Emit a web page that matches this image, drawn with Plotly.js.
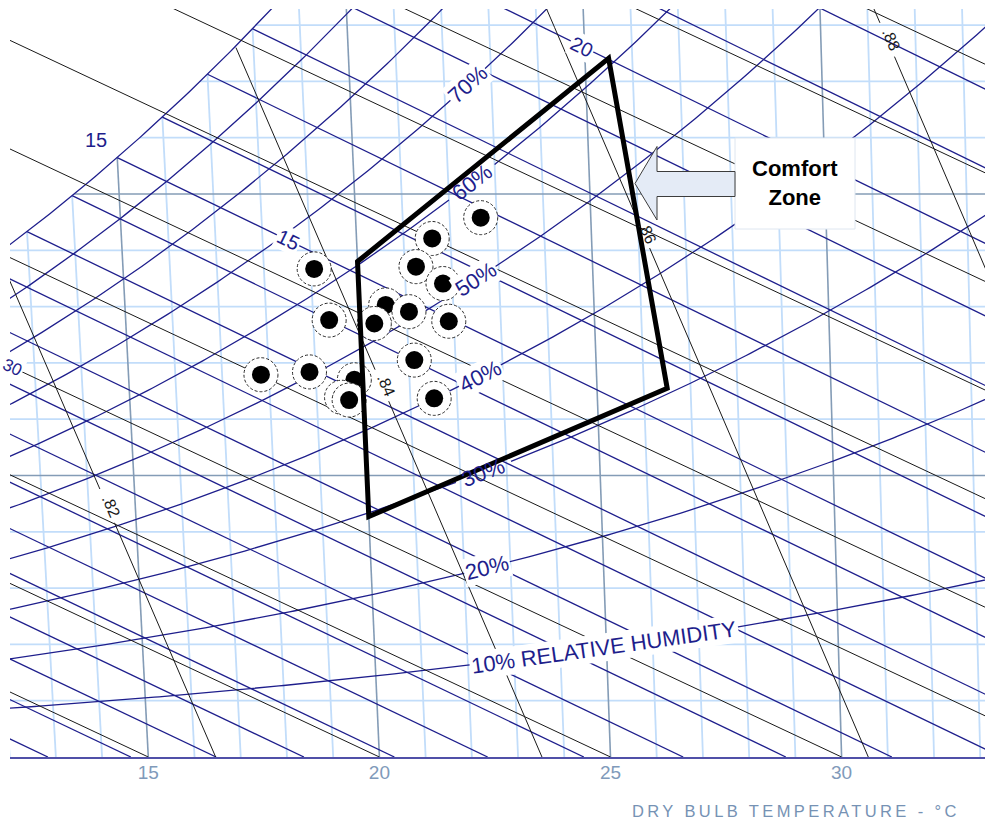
<!DOCTYPE html>
<html>
<head>
<meta charset="utf-8">
<script src="https://cdn.plot.ly/plotly-3.0.1.min.js"></script>
<style>
  html, body { margin: 0; padding: 0; background: #fff; }
  #chart { width: 985px; height: 828px; }
</style>
</head>
<body>
<div id="chart"></div>
<script>
// ---- Measured conditions: dry-bulb temperature (°C) and humidity ratio (g/kg dry air)
const pointTemp = [22.66, 21.61, 19.07, 21.24, 21.80, 20.56, 21.05, 19.34, 20.30, 21.89, 21.12, 17.83, 18.87, 19.82, 19.53, 19.69, 21.51];
const pointHum  = [9.58, 9.21, 8.67, 8.71, 8.41, 8.03, 7.91, 7.76, 7.70, 7.74, 7.05, 6.79, 6.84, 6.70, 6.39, 6.34, 6.37];

// ---- Comfort zone corners (dry-bulb °C, humidity ratio g/kg)
const zoneTemp = [20.0, 25.5, 26.5, 20.0];
const zoneHum  = [8.80, 12.41, 6.55, 4.27];

// ---- Chart line families
const rhLevels        = [10, 20, 30, 40, 50, 60, 70, 80, 90, 100];   // % relative humidity
const rhLabelLevels   = [10, 20, 30, 40, 50, 60, 70];
const rhLabelTemp     = [24.95, 22.5, 22.5, 22.5, 22.5, 22.5, 22.5];
const rhLabelText     = ['10% RELATIVE HUMIDITY', '20%', '30%', '40%', '50%', '60%', '70%'];
const rhLabelUnderZone = [30, 60];                                   // labels crossed by the zone outline

const dryBulbMajor    = [15, 20, 25, 30];                            // °C
const tickText        = ['15', '20', '25', '30'];
const humidityMajor   = [5, 10];                                     // g/kg

const wetBulbFirst = 0, wetBulbLast = 32;                            // °C, every degree
const wetBulbLabelLevels = [15, 20];
const wetBulbLabelTemp   = [18.55, 24.95];

const enthalpyLevels  = [10, 15, 20, 25, 30, 35, 40, 45, 50, 55, 60, 65, 70, 75];   // kJ/kg
const enthalpyLabelLevels = [30];

const volumeLevels    = [0.80, 0.82, 0.84, 0.86, 0.88, 0.90];        // m³/kg
const volumeLabelLevels = [0.82, 0.84, 0.86, 0.88];
const volumeLabelTemp   = [14.4, 20.4, 26.1, 31.4];
const volumeLabelText   = ['.82', '.84', '.86', '.88'];

const saturationLabelTemp = [15];

// ---- Psychrometric relations (sea level)
const P_ATM = 101325;
function satPressure(T) {
  const K = T + 273.15;
  return Math.exp(-5800.2206 / K + 1.3914993 - 0.048640239 * K + 4.1764768e-5 * K * K
                  - 1.4452093e-8 * K * K * K + 6.5459673 * Math.log(K));
}
function rhHumidity(T, rh) { const p = rh / 100 * satPressure(T); return 621.945 * p / (P_ATM - p); }
function satHumidity(T) { return rhHumidity(T, 100); }
function dewPoint(w) {
  let lo = -30, hi = 60;
  for (let i = 0; i < 60; i++) { const m = (lo + hi) / 2; if (satHumidity(m) < w) lo = m; else hi = m; }
  return (lo + hi) / 2;
}
function wetBulbHumidity(T, twb) {
  return ((2501 - 2.326 * twb) * satHumidity(twb) - 1006 * (T - twb)) / (2501 + 1.86 * T - 4.186 * twb);
}
// volume scale works from a 273 K offset
function volumeTemp(v, w) { return v * P_ATM / (287.042 * (1 + 1.607858 * w / 1000)) - 273.0; }
function volumeHum(v, T) { return (v * P_ATM / (287.042 * (T + 273.0)) - 1) / 1.607858 * 1000; }
// oblique abscissa: enthalpy-based, equals dry-bulb on the dry-air baseline
function chartX(T, w) { return T + w * (1.86 * T - 91) / 1000; }
function enthalpyX(h, w) { return h - 2.592 * w; }

// ---- Plot geometry
const W = 985, H = 828;
const margin = { l: 10, r: 0, t: 9, b: 71 };
const plotW = W - margin.l - margin.r;
const plotH = H - margin.t - margin.b;
const pxPerDeg = 46.22, pxPerGram = 56.3;
const xMin = 15 - 138.3 / pxPerDeg;
const xRange = [xMin, xMin + plotW / pxPerDeg];
const yRange = [0, plotH / pxPerGram];
const wTop = yRange[1] + 1;

function screenAngle(a, b) {
  const dx = (b[0] - a[0]) * pxPerDeg, dy = -(b[1] - a[1]) * pxPerGram;
  return Math.atan2(dy, dx) * 180 / Math.PI;
}

// ---- Colours
const navy = 'rgb(30,30,140)';
const lightGrid = 'rgb(194,221,250)';
const majorGrid = 'rgb(132,156,182)';
const ink = 'rgb(25,25,25)';
const labelFont = 'Liberation Sans, Arial, sans-serif';

function lineTrace(segments, color, width) {
  const x = [], y = [];
  segments.forEach(seg => {
    seg.forEach(p => { x.push(p[0]); y.push(p[1]); });
    x.push(null); y.push(null);
  });
  return { type: 'scatter', mode: 'lines', x, y, line: { color, width },
           hoverinfo: 'skip', showlegend: false, connectgaps: false };
}

// dry-bulb lines: baseline up to saturation
function dryBulbSeg(T) { return [[chartX(T, 0), 0], [chartX(T, satHumidity(T)), satHumidity(T)]]; }
// humidity-ratio lines: saturation out to the right
function humiditySeg(w) { return [[chartX(dewPoint(w), w), w], [xRange[1] + 2, w]]; }

const dryMinor = [], dryMajor = [];
for (let T = 8; T <= 36; T++) (dryBulbMajor.includes(T) ? dryMajor : dryMinor).push(dryBulbSeg(T));
const humMinor = [], humMajor = [];
for (let w = 1; w <= 14; w++) (humidityMajor.includes(w) ? humMajor : humMinor).push(humiditySeg(w));

// relative humidity curves, opened where a label sits over the zone outline
const rhSegs = [];
rhLevels.forEach(rh => {
  let gap = null;
  if (rhLabelUnderZone.includes(rh)) {
    const Tl = rhLabelTemp[rhLabelLevels.indexOf(rh)];
    const a = [chartX(Tl - 0.2, rhHumidity(Tl - 0.2, rh)), rhHumidity(Tl - 0.2, rh)];
    const b = [chartX(Tl + 0.2, rhHumidity(Tl + 0.2, rh)), rhHumidity(Tl + 0.2, rh)];
    const ang = screenAngle(a, b) * Math.PI / 180;
    gap = [Tl, 27 * Math.cos(ang) / pxPerDeg];
  }
  let seg = [];
  for (let T = -5; T <= 45.0001; T += 0.1) {
    const w = rhHumidity(T, rh);
    if (w > wTop + 2) break;
    if (gap && Math.abs(T - gap[0]) < gap[1]) { if (seg.length) { rhSegs.push(seg); seg = []; } continue; }
    seg.push([chartX(T, w), w]);
  }
  if (seg.length) rhSegs.push(seg);
});

// wet-bulb lines: saturation down to the dry-air baseline
const wbSegs = [];
for (let twb = wetBulbFirst; twb <= wetBulbLast; twb++) {
  const ws = satHumidity(twb);
  const Tend = twb + (2501 - 2.326 * twb) * ws / 1006;
  const seg = [];
  for (let k = 0; k <= 20; k++) {
    const T = twb + (Tend - twb) * k / 20;
    const w = Math.max(0, wetBulbHumidity(T, twb));
    seg.push([chartX(T, w), w]);
  }
  wbSegs.push(seg);
}

// enthalpy lines
const hSegs = enthalpyLevels.map(h => [[enthalpyX(h, 0), 0], [enthalpyX(h, wTop), wTop]]);

// specific volume lines: baseline up to saturation, opened around their labels
const vSegs = [];
volumeLevels.forEach(v => {
  const li = volumeLabelLevels.findIndex(l => Math.abs(l - v) < 1e-9);
  const gapW = li >= 0 ? volumeHum(v, volumeLabelTemp[li]) : null;
  let seg = [];
  for (let w = 0; w <= 30; w += 0.04) {
    const T = volumeTemp(v, w);
    if (w > satHumidity(T)) break;
    if (gapW !== null && Math.abs(w - gapW) < 0.27) { if (seg.length) { vSegs.push(seg); seg = []; } continue; }
    seg.push([chartX(T, w), w]);
  }
  if (seg.length) vSegs.push(seg);
});

const traces = [
  lineTrace(dryMinor, lightGrid, 1.8),
  lineTrace(humMinor, lightGrid, 1.8),
  lineTrace(dryMajor, majorGrid, 1.6),
  lineTrace(humMajor, majorGrid, 1.6),
  lineTrace(rhSegs, navy, 1.3),
  lineTrace(wbSegs, navy, 1.3),
  lineTrace(hSegs, ink, 1),
  lineTrace(vSegs, ink, 1)
];

// ---- Labels
const annotations = [];
rhLabelLevels.forEach((rh, i) => {
  const T = rhLabelTemp[i], w = rhHumidity(T, rh);
  const a = [chartX(T - 0.2, rhHumidity(T - 0.2, rh)), rhHumidity(T - 0.2, rh)];
  const b = [chartX(T + 0.2, rhHumidity(T + 0.2, rh)), rhHumidity(T + 0.2, rh)];
  const under = rhLabelUnderZone.includes(rh);
  annotations.push({
    xref: 'x', yref: 'y', x: chartX(T, w), y: w, text: rhLabelText[i], showarrow: false,
    xanchor: 'center', yanchor: 'middle',
    textangle: screenAngle(a, b), font: { family: labelFont, size: 22, color: navy },
    bgcolor: under ? 'rgba(0,0,0,0)' : 'white', borderpad: 1
  });
});
wetBulbLabelLevels.forEach((twb, i) => {
  const T = wetBulbLabelTemp[i], w = wetBulbHumidity(T, twb);
  const a = [chartX(T - 0.2, wetBulbHumidity(T - 0.2, twb)), wetBulbHumidity(T - 0.2, twb)];
  const b = [chartX(T + 0.2, wetBulbHumidity(T + 0.2, twb)), wetBulbHumidity(T + 0.2, twb)];
  annotations.push({
    xref: 'x', yref: 'y', x: chartX(T, w), y: w, text: String(twb), showarrow: false,
    xanchor: 'center', yanchor: 'middle',
    textangle: screenAngle(a, b), font: { family: labelFont, size: 20, color: navy },
    bgcolor: 'white', borderpad: 1
  });
});
volumeLabelLevels.forEach((v, i) => {
  const T = volumeLabelTemp[i];
  const w = volumeHum(v, T);
  const up = [chartX(volumeTemp(v, w + 0.2), w + 0.2), w + 0.2];
  const dn = [chartX(volumeTemp(v, w - 0.2), w - 0.2), w - 0.2];
  annotations.push({
    xref: 'x', yref: 'y', x: chartX(T, w), y: w, xshift: 4, text: volumeLabelText[i], showarrow: false,
    xanchor: 'center', yanchor: 'middle',
    textangle: screenAngle(up, dn), font: { family: labelFont, size: 16, color: ink }
  });
});
enthalpyLabelLevels.forEach(h => {
  const X = xRange[0] + 0.01, w = (h - X) / 2.592;
  const up = [enthalpyX(h, w + 0.2), w + 0.2], dn = [enthalpyX(h, w - 0.2), w - 0.2];
  annotations.push({
    xref: 'x', yref: 'y', x: X, y: w, xshift: 2, yshift: -1, text: String(h), showarrow: false,
    xanchor: 'center', yanchor: 'middle',
    textangle: screenAngle(up, dn), font: { family: labelFont, size: 17, color: navy },
    bgcolor: 'white', borderpad: 1
  });
});
saturationLabelTemp.forEach(T => {
  const w = satHumidity(T);
  annotations.push({
    xref: 'x', yref: 'y', x: chartX(T, w), y: w, xshift: -21, yshift: 18, text: String(T),
    xanchor: 'center', yanchor: 'middle',
    showarrow: false, font: { family: labelFont, size: 20, color: navy }
  });
});

// callout text and axis caption
const px2paperX = px => (px - margin.l) / plotW;
const px2paperY = py => (margin.t + plotH - py) / plotH;
annotations.push({
  xref: 'paper', yref: 'paper', x: px2paperX(795), y: px2paperY(183),
  xanchor: 'center', yanchor: 'middle',
  text: '<b>Comfort<br>Zone</b>', showarrow: false,
  font: { family: labelFont, size: 22, color: 'black' }
});
annotations.push({
  xref: 'paper', yref: 'paper', x: px2paperX(796), y: px2paperY(811),
  xanchor: 'center', yanchor: 'middle',
  text: '<span style="letter-spacing:3.4px">DRY BULB TEMPERATURE - °C</span>', showarrow: false,
  font: { family: labelFont, size: 16.5, color: 'rgb(118,146,180)' }
});

// ---- Shapes: readings, comfort zone outline, callout
const shapes = [];
pointTemp.forEach((T, i) => {
  const w = pointHum[i], X = chartX(T, w);
  const base = { type: 'circle', xref: 'x', yref: 'y', xsizemode: 'pixel', ysizemode: 'pixel',
                 xanchor: X, yanchor: w, layer: 'above' };
  shapes.push(Object.assign({}, base, { x0: -17, x1: 17, y0: -17, y1: 17, fillcolor: 'white',
                                         line: { color: 'rgb(40,40,40)', width: 1, dash: '3px,2px' } }));
  shapes.push(Object.assign({}, base, { x0: -9, x1: 9, y0: -9, y1: 9, fillcolor: 'black',
                                         line: { width: 0 } }));
});
const zonePath = zoneTemp.map((T, i) =>
  (i ? 'L' : 'M') + chartX(T, zoneHum[i]).toFixed(4) + ',' + zoneHum[i].toFixed(4)).join(' ') + ' Z';
shapes.push({ type: 'path', xref: 'x', yref: 'y', path: zonePath, layer: 'above',
              line: { color: 'black', width: 5 } });
shapes.push({ type: 'rect', xref: 'paper', yref: 'paper', layer: 'above',
              x0: px2paperX(735), x1: px2paperX(855), y0: px2paperY(229), y1: px2paperY(138),
              fillcolor: 'white', line: { color: 'rgb(222,230,240)', width: 1 } });
const arrowPts = [[735, 171.5], [657, 171.5], [657, 146.5], [635, 183.5], [657, 220], [657, 196.5], [735, 196.5]];
shapes.push({ type: 'path', xref: 'paper', yref: 'paper', layer: 'above',
              path: arrowPts.map((p, i) => (i ? 'L' : 'M') + px2paperX(p[0]).toFixed(5) + ',' + px2paperY(p[1]).toFixed(5)).join(' ') + ' Z',
              fillcolor: 'rgb(228,235,246)', line: { color: 'rgb(60,60,60)', width: 1 } });

const layout = {
  width: W, height: H, margin: margin,
  paper_bgcolor: 'white', plot_bgcolor: 'white', showlegend: false,
  xaxis: { range: xRange, tickvals: dryBulbMajor, ticktext: tickText, showgrid: false, zeroline: false,
           showline: true, linecolor: 'rgb(80,80,168)', linewidth: 2, ticks: '',
           ticklabelstandoff: -3, tickfont: { family: labelFont, size: 19, color: 'rgb(128,154,186)' },
           fixedrange: true },
  yaxis: { range: yRange, visible: false, fixedrange: true },
  shapes, annotations
};

Plotly.newPlot('chart', traces, layout, { displayModeBar: false, staticPlot: true });
</script>
</body>
</html>
